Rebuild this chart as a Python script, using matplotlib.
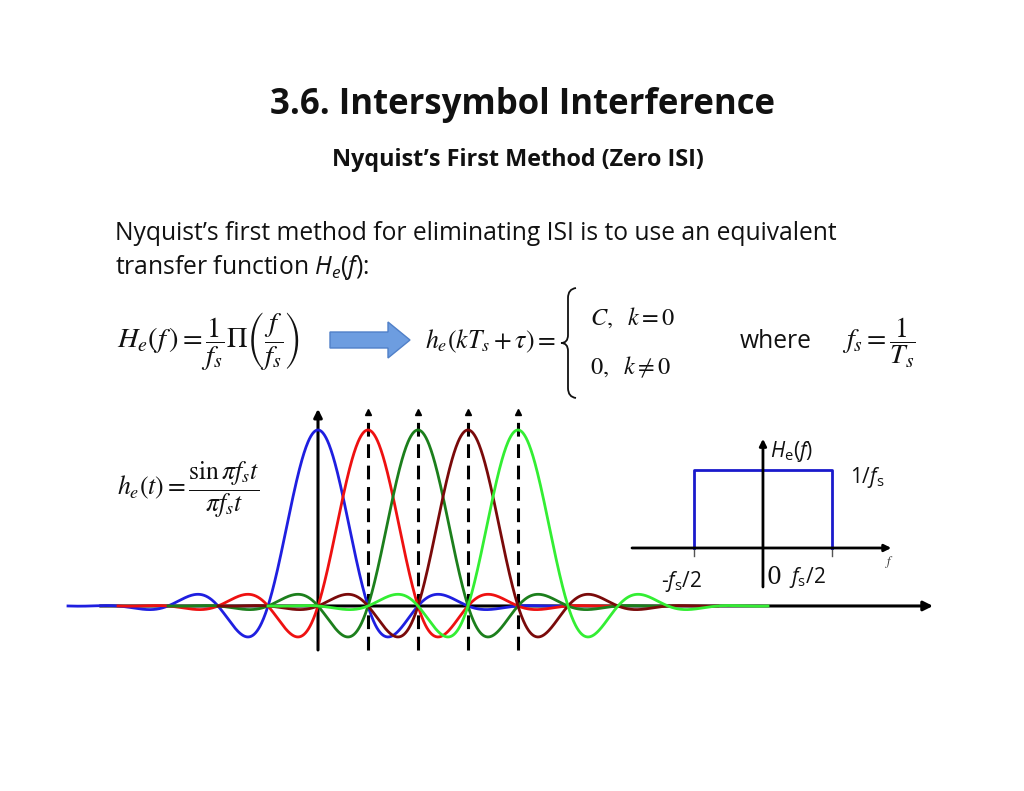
import numpy as np
import matplotlib
matplotlib.use('Agg')
import matplotlib.pyplot as plt
from matplotlib.patches import FancyArrow, PathPatch
from matplotlib.path import Path

plt.rcParams['font.family'] = ['Open Sans', 'DejaVu Sans']
plt.rcParams['mathtext.fontset'] = 'custom'
plt.rcParams['mathtext.rm'] = 'Open Sans'
plt.rcParams['mathtext.it'] = 'Open Sans:italic'
plt.rcParams['mathtext.bf'] = 'Open Sans:bold'

# ---- data ----
pulse_centers = [0, 1, 2, 3, 4]            # in units of Ts
pulse_colors = ['#1f1fe0', '#ee1111', '#1c7f1c', '#7a0a0a', '#33ee33']
pulse_halfwidth = 5.0                       # each pulse drawn over +-5 Ts
pulse_rolloff = 0.33                        # sidelobes in the drawing are damped
rect_edges = [-0.5, 0.5]                    # -fs/2 .. fs/2
rect_height = 1.0                           # 1/fs

fig = plt.figure(figsize=(10.24, 7.91), dpi=100)
fig.patch.set_facecolor('white')

# overlay for slide text (pixel coords)
ov = fig.add_axes([0, 0, 1, 1])
ov.set_xlim(0, 1024)
ov.set_ylim(791, 0)
ov.axis('off')

ov.text(522, 105, '3.6. Intersymbol Interference', ha='center', va='center',
        fontsize=25, fontweight='bold', color='#111111')
ov.text(518, 160, 'Nyquist\u2019s First Method (Zero ISI)', ha='center', va='center',
        fontsize=16.8, fontweight='bold', color='#111111')
ov.text(115, 233, 'Nyquist\u2019s first method for eliminating ISI is to use an equivalent',
        ha='left', va='center', fontsize=17.7, color='#111111')
ov.text(115, 267, 'transfer function $H_e(f)$:', ha='left', va='center',
        fontsize=17.7, color='#111111')

# equations (Times-like)
ov.text(117, 341, r'$H_e(f\,)=\dfrac{1}{f_s}\Pi\left(\dfrac{f}{f_s}\right)$',
        ha='left', va='center', fontsize=20.5, math_fontfamily='stix', color='#111111')
ov.add_patch(FancyArrow(330, 340, 58, 0, width=16, head_width=36, head_length=22,
                        length_includes_head=False, facecolor='#6d9de0',
                        edgecolor='#5080c8', linewidth=1))
ov.text(425, 341, r'$h_e(kT_s+\tau)=$', ha='left', va='center', fontsize=18.5,
        math_fontfamily='stix', color='#111111')
brace = Path([(576, 288), (568, 289), (568, 298), (568, 335), (568, 343), (561, 343),
              (568, 343), (568, 351), (568, 388), (568, 397), (576, 398)],
             [Path.MOVETO, Path.CURVE3, Path.CURVE3, Path.LINETO, Path.CURVE3, Path.CURVE3,
              Path.CURVE3, Path.CURVE3, Path.LINETO, Path.CURVE3, Path.CURVE3])
ov.add_patch(PathPatch(brace, facecolor='none', edgecolor='#111111', lw=1.3))
ov.text(590, 318, r'$C,\ \ k=0$', ha='left', va='center', fontsize=17.5,
        math_fontfamily='stix', color='#111111')
ov.text(590, 368, r'$0,\ \ k\neq 0$', ha='left', va='center', fontsize=17.5,
        math_fontfamily='stix', color='#111111')
ov.text(740, 341, 'where', ha='left', va='center', fontsize=17.7, color='#111111')
ov.text(842, 343, r'$f_s=\dfrac{1}{T_s}$', ha='left', va='center', fontsize=20,
        math_fontfamily='stix', color='#111111')
ov.text(117, 490, r'$h_e(t)=\dfrac{\sin\pi f_s t}{\pi f_s t}$', ha='left', va='center',
        fontsize=18.5, math_fontfamily='stix', color='#111111')

# ---- pulse train ----
ax = fig.add_axes([60 / 1024, (791 - 660) / 791, 880 / 1024, 255 / 791])
ax.set_xlim(-5.16, 12.44)
ax.set_ylim(-0.307, 1.142)
ax.axis('off')

ax.annotate('', xy=(12.3, 0), xytext=(-4.36, 0),
            arrowprops=dict(arrowstyle='-|>', lw=2.2, color='black',
                            mutation_scale=14, shrinkA=0, shrinkB=0), zorder=2)
ax.annotate('', xy=(0, 1.12), xytext=(0, -0.25),
            arrowprops=dict(arrowstyle='-|>', lw=2.2, color='black',
                            mutation_scale=12, shrinkA=0, shrinkB=0), zorder=2)
for c in pulse_centers[1:]:
    ax.plot([c, c], [-0.25, 1.09], color='black', lw=2.2, ls=(0, (4.5, 2.5)), zorder=2)
    ax.plot([c], [1.1], marker='^', color='black', markersize=5, zorder=2)

b = pulse_rolloff
for c, col in zip(pulse_centers, pulse_colors):
    t = np.linspace(c - pulse_halfwidth, c + pulse_halfwidth, 1001) - c
    den = 1 - (2 * b * t) ** 2
    den[np.abs(den) < 1e-9] = 1e-9
    h = np.sinc(t) * np.cos(np.pi * b * t) / den
    ax.plot(t + c, h, color=col, lw=2, zorder=3)

# ---- spectrum inset ----
ax2 = fig.add_axes([620 / 1024, (791 - 600) / 791, 280 / 1024, 170 / 791])
ax2.set_xlim(-1.036, 0.993)
ax2.set_ylim(-0.667, 1.513)
ax2.axis('off')
ax2.annotate('', xy=(0.93, 0), xytext=(-0.949, 0),
             arrowprops=dict(arrowstyle='-|>', lw=2, color='black',
                             mutation_scale=10, shrinkA=0, shrinkB=0))
ax2.annotate('', xy=(0, 1.4), xytext=(0, -0.5),
             arrowprops=dict(arrowstyle='-|>', lw=2, color='black',
                             mutation_scale=10, shrinkA=0, shrinkB=0))
for e in rect_edges:
    ax2.plot([e, e], [-0.1, 0], color='#555555', lw=1)
ax2.plot([rect_edges[0], rect_edges[0], rect_edges[1], rect_edges[1]],
         [0, rect_height, rect_height, 0], color='#1a1acc', lw=2)

ov.text(770, 452, r'$H_{\mathrm{e}}(f)$', ha='left', va='center', fontsize=15, color='#111111')
ov.text(850, 478, r'1/$f_{\mathrm{s}}$', ha='left', va='center', fontsize=15, color='#111111')
ov.text(661, 582, r'-$f_{\mathrm{s}}$/2', ha='left', va='center', fontsize=15, color='#111111')
ov.text(767, 577, '0', ha='left', va='center', fontsize=17, family='DejaVu Serif',
        color='#111111')
ov.text(789, 577, r'$f_{\mathrm{s}}$/2', ha='left', va='center', fontsize=15, color='#111111')
ov.text(885, 562, r'$f$', ha='left', va='center', fontsize=9, math_fontfamily='stix',
        color='#333333')

fig.savefig('out.png', dpi=100, facecolor='white')
